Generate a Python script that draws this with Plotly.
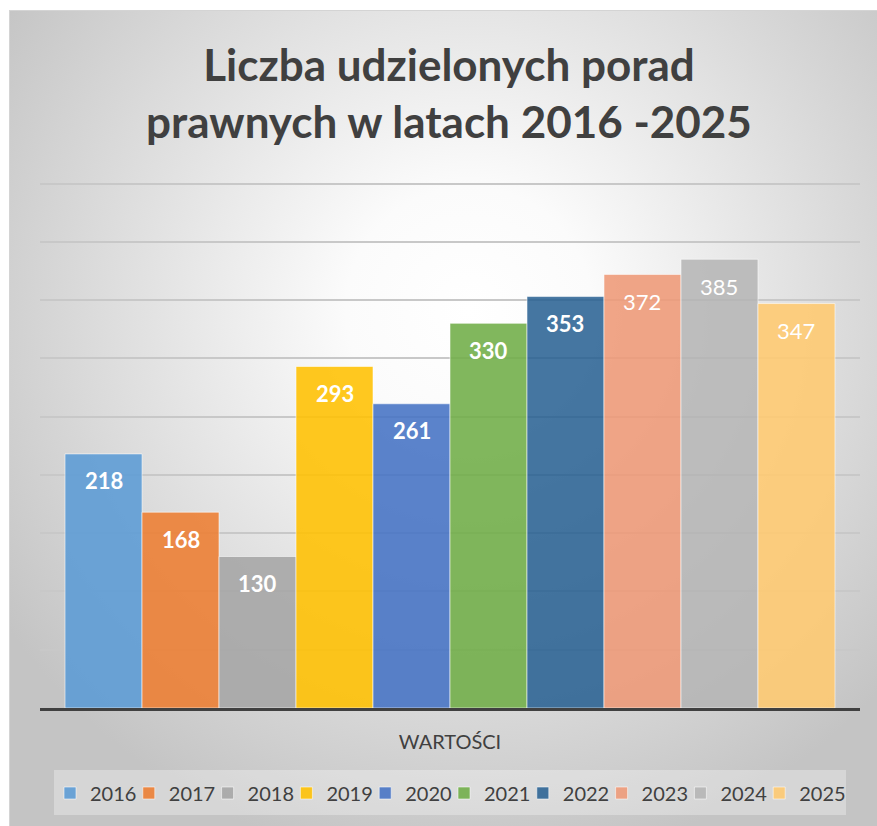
import base64
import plotly.graph_objects as go

# ---- data ----
years = [2016, 2017, 2018, 2019, 2020, 2021, 2022, 2023, 2024, 2025]
values = [218, 168, 130, 293, 261, 330, 353, 372, 385, 347]
category_label = "WARTOŚCI"
title_text = "Liczba udzielonych porad<br>prawnych w latach 2016 -2025"

# ---- styles ----
colors = ["rgba(91,155,213,0.88)", "rgba(237,125,49,0.88)", "rgba(165,165,165,0.88)",
          "rgba(255,192,0,0.88)", "rgba(68,114,196,0.88)", "rgba(112,173,71,0.88)",
          "rgba(37,94,145,0.85)", "rgba(238,153,118,0.88)", "rgba(180,180,180,0.85)",
          "rgba(255,201,112,0.88)"]
label_bold = [True, True, True, True, True, True, True, False, False, False]

W, H = 877, 826
L, R, T, B = 40, 17, 180, 118
pw, ph = W - L - R, H - T - B

# legend layout (pixels)
LEG_X0, LEG_PITCH, LEG_Y = 50, 78.8, 793

svg = f'''<svg xmlns="http://www.w3.org/2000/svg" width="{W-9}" height="{H-10}" viewBox="0 0 {W-9} {H-10}">
<defs><radialGradient id="g" gradientUnits="userSpaceOnUse" cx="460" cy="300" r="560">
<stop offset="0" stop-color="#ffffff"/><stop offset="0.22" stop-color="#fbfbfb"/>
<stop offset="1" stop-color="#c4c4c4"/></radialGradient></defs>
<rect x="0" y="0" width="{W-9}" height="{H-10}" fill="url(#g)"/>
<rect x="0.5" y="0.5" width="{W}" height="{H}" fill="none" stroke="#d4d4d4" stroke-width="1"/>
<rect x="{54-9}" y="{770-10}" width="792" height="45" fill="#ffffff" fill-opacity="0.3"/>
</svg>'''
src = "data:image/svg+xml;base64," + base64.b64encode(svg.encode()).decode()

legend_ids = ["legend"] + [f"legend{i}" for i in range(2, len(years) + 1)]

fig = go.Figure()
for yr, v, c, lg in zip(years, values, colors, legend_ids):
    fig.add_trace(go.Bar(
        x=[yr], y=[v], name=str(yr), width=1, legend=lg,
        marker=dict(color=c, line=dict(color="rgba(255,255,255,0.55)", width=1)),
        hoverinfo="name+y",
    ))

annotations = []
for yr, v, b in zip(years, values, label_bold):
    annotations.append(dict(
        x=yr, y=v, xref="x", yref="y", text=str(v), showarrow=False,
        yshift=-27, font=dict(family="Lato", size=22, color="white",
                              weight="bold" if b else "normal"),
    ))

legends = {}
for i, lg in enumerate(legend_ids):
    legends[lg] = dict(
        orientation="h", x=(LEG_X0 + i * LEG_PITCH) / W, xref="container", xanchor="left",
        y=1 - LEG_Y / H, yref="container", yanchor="middle",
        bgcolor="rgba(0,0,0,0)",
        font=dict(family="Lato", size=20, color="#404040"),
        itemclick=False, itemdoubleclick=False,
    )

fig.update_layout(
    width=W, height=H,
    margin=dict(l=L, r=R, t=T, b=B),
    paper_bgcolor="white",
    plot_bgcolor="rgba(0,0,0,0)",
    barmode="overlay",
    font=dict(family="Lato", color="#404040"),
    title=dict(text=title_text, x=449 / W, xref="container", xanchor="center",
               y=1 - 81 / H, yref="container", yanchor="middle",
               font=dict(family="Lato", size=44, color="#404040", weight="bold")),
    xaxis=dict(range=[years[0] - 0.5 - 0.325, years[-1] + 0.5 + 0.325],
               tickvals=[(years[0] + years[-1]) / 2], ticktext=[category_label],
               ticks="outside", ticklen=14, tickcolor="rgba(0,0,0,0)",
               tickfont=dict(size=20, color="#404040"),
               showline=True, linecolor="#404040", linewidth=3,
               showgrid=False, zeroline=False, fixedrange=True),
    yaxis=dict(range=[0, 453], tickvals=[50, 100, 150, 200, 250, 300, 350, 400, 450],
               showticklabels=False,
               showgrid=True, gridcolor="#c8c8c8", gridwidth=1.5,
               zeroline=False, showline=False, fixedrange=True),
    annotations=annotations,
    images=[dict(source=src, xref="paper", yref="paper",
                 x=(9 - L) / pw, y=(H - B - 10) / ph,
                 sizex=(W - 9) / pw, sizey=(H - 10) / ph,
                 xanchor="left", yanchor="top", sizing="stretch", layer="below")],
    showlegend=True,
    **legends,
)

fig.write_html("out.html", config={"displayModeBar": False},
               post_script="document.body.style.margin='0';document.body.style.overflow='hidden';")
